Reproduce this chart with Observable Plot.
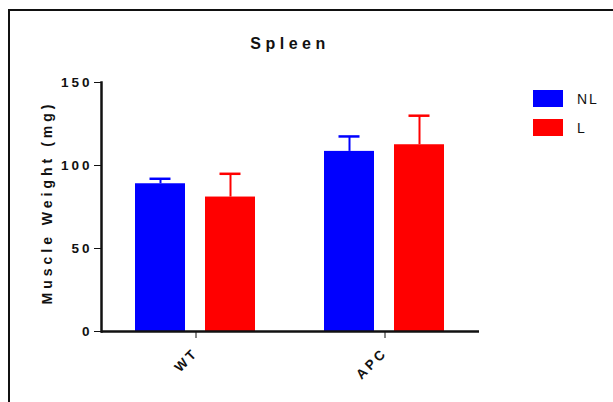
<!DOCTYPE html>
<html>
<head>
<meta charset="utf-8">
<script src="https://cdn.jsdelivr.net/npm/d3@7"></script>
<script src="https://cdn.jsdelivr.net/npm/@observablehq/plot@0.6"></script>
<style>
  body { margin: 0; background: #fff; }
  #wrap { position: relative; width: 613px; height: 402px; overflow: hidden; font-family: "Liberation Sans", Arial, sans-serif; color: #111; }
  #frame { position: absolute; left: 8px; top: 9px; width: 700px; height: 500px; border-left: 2px solid #111; border-top: 2px solid #111; box-sizing: border-box; }
  #chart { position: absolute; left: 0; top: 0; }
  #title { position: absolute; left: 290px; top: 36px; transform: translateX(-50%); font-size: 16px; line-height: 16px; font-weight: bold; letter-spacing: 4.5px; white-space: nowrap; }
  .sw { position: absolute; left: 533px; width: 30px; height: 17px; }
  .lab { position: absolute; left: 577px; font-size: 14px; line-height: 14px; letter-spacing: 2px; white-space: nowrap; }
</style>
</head>
<body>
<div id="wrap">
  <div id="frame"></div>
  <div id="chart"></div>
  <div id="title"></div>
  <div id="legend"></div>
</div>
<script>
const titleText = "Spleen";
const yLabel = "Muscle Weight (mg)";
const groups = ["WT", "APC"];
const series = ["NL", "L"];
const nlMeans = [89, 108.5];
const lMeans = [81, 112.5];
const nlErr = [3, 9];
const lErr = [14, 17.5];
const yTicks = [0, 50, 100, 150];
const colors = ["#0000ff", "#ff0000"];

const data = [];
groups.forEach((g, i) => {
  data.push({group: g, series: series[0], mean: nlMeans[i], sem: nlErr[i]});
  data.push({group: g, series: series[1], mean: lMeans[i], sem: lErr[i]});
});

const chart = Plot.plot({
  width: 613,
  height: 402,
  marginLeft: 100,
  marginRight: 134,
  marginTop: 82,
  marginBottom: 71,
  style: {background: "transparent", fontFamily: "'Liberation Sans', Arial, sans-serif", fontSize: "13.5px", fontWeight: "bold", letterSpacing: "3px", color: "#111"},
  fx: {domain: groups, padding: 0, axis: "bottom", tickSize: 7, tickPadding: 12, tickRotate: -45, label: null},
  x: {domain: series, axis: null, paddingInner: 20 / 71, paddingOuter: 34 / 71},
  y: {domain: [0, 150], ticks: yTicks, tickSize: 7, tickPadding: 2, label: null, line: true},
  color: {domain: series, range: colors},
  marks: [
    Plot.barY(data, {fx: "group", x: "series", y: "mean", fill: "series"}),
    Plot.ruleX(data, {fx: "group", x: "series", y1: "mean", y2: d => d.mean + d.sem, stroke: "series", strokeWidth: 2}),
    Plot.tickY(data, {fx: "group", x: "series", y: d => d.mean + d.sem, stroke: "series", strokeWidth: 2.5, insetLeft: 14.5, insetRight: 14.5}),
    Plot.ruleY([0], {strokeWidth: 2.5}),
    Plot.frame({anchor: "left", facetAnchor: "left", strokeWidth: 2.5}),
    Plot.text([yLabel], {fx: () => groups[0], text: d => d, frameAnchor: "left", textAnchor: "middle", rotate: -90, dx: -54, dy: -4.5, fontSize: 14, fontWeight: "bold", style: "letter-spacing: 4px"})
  ]
});
chart.querySelectorAll("text").forEach(t => { if (t.textContent === yLabel) t.style.letterSpacing = "4px"; });
document.getElementById("chart").appendChild(chart);
document.getElementById("title").textContent = titleText;

const legend = document.getElementById("legend");
series.forEach((s, i) => {
  const sw = document.createElement("div");
  sw.className = "sw";
  sw.style.top = (90 + i * 29) + "px";
  sw.style.background = colors[i];
  legend.appendChild(sw);
  const lb = document.createElement("div");
  lb.className = "lab";
  lb.style.top = (92 + i * 29) + "px";
  lb.textContent = s;
  legend.appendChild(lb);
});
</script>
</body>
</html>
